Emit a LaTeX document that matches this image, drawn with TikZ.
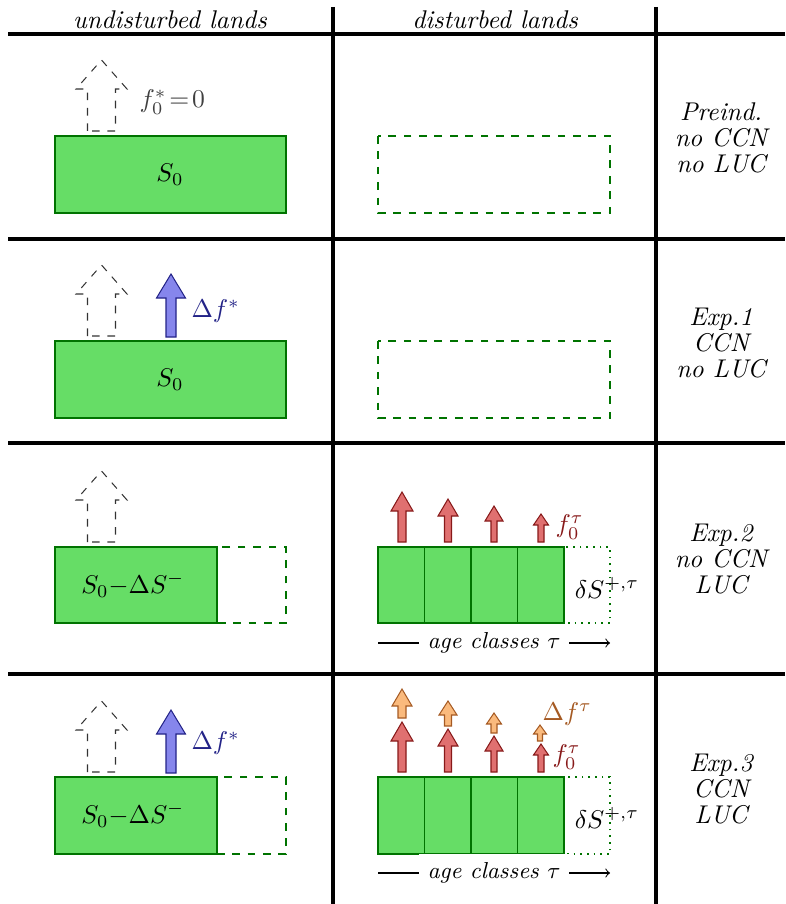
\documentclass[tikz,border=0pt]{standalone}
\usepackage{tikz}
\usetikzlibrary{calc}
\definecolor{landfill}{RGB}{102,221,102}
\definecolor{landdraw}{RGB}{0,115,0}
\definecolor{ccnfill}{RGB}{134,134,236}
\definecolor{ccndraw}{RGB}{35,35,135}
\definecolor{agefill}{RGB}{224,112,112}
\definecolor{agedraw}{RGB}{135,25,25}
\definecolor{dagefill}{RGB}{250,186,125}
\definecolor{dagedraw}{RGB}{165,90,35}
% upward flux arrow: [style](x,ybottom)(length:shaft:head:headlength)
\def\fluxarrow[#1](#2,#3)(#4:#5:#6:#7){\draw[#1] ({#2-#5/2},#3) -- ({#2-#5/2},{#3-#4+#7}) -- ({#2-#6/2},{#3-#4+#7}) -- (#2,{#3-#4}) -- ({#2+#6/2},{#3-#4+#7}) -- ({#2+#5/2},{#3-#4+#7}) -- ({#2+#5/2},#3) -- cycle;}

\begin{document}
\begin{tikzpicture}[x=0.39pt, y=-0.39pt,
	frame/.style={line width=1.3pt},
	landbox/.style={draw=landdraw, fill=landfill, semithick},
	emptybox/.style={draw=landdraw, dashed},
	newbox/.style={draw=landdraw, dotted, semithick},
	oldflux/.style={dashed, black!80},
	ccnflux/.style={draw=ccndraw, fill=ccnfill},
	ageflux/.style={draw=agedraw, fill=agefill},
	dageflux/.style={draw=dagedraw, fill=dagefill},
	fluxlabel/.style={anchor=west, inner sep=0pt},
	caseinfo/.style={align=center, font=\itshape},
	ageaxis/.style={fill=white, font=\small\itshape}]
			%%%%% START %%%%%
			\useasboundingbox (0,0) rectangle (785,904);
			
			% table
			\draw[frame] (333,7) -- (333,904);
			\draw[frame] (656,7) -- (656,904);
			\draw[frame] (8,34) -- (785,34);
			\draw[frame] (8,239) -- (785,239);
			\draw[frame] (8,443) -- (785,443);
			\draw[frame] (8,674) -- (785,674);
			\node[font=\itshape] (hundist) at (170,20) {undisturbed lands};
			\node[font=\itshape] (hdist) at (495,20) {disturbed lands};
			
			% preindustrial
			\draw[landbox] (55,136) rectangle (286,213);
			\node (sone) at (170,175) {$S_0$};
			\fluxarrow[oldflux](101.5,131)(71:28:51:29);
			\node[fluxlabel, black!75] (fone) at (139,102) {$f_0^*\!=\!0$};
			\draw[emptybox] (378,136) rectangle (610,213);
			\node[caseinfo] (caseone) at (721,138) {Preind.\\[-1.8pt]no CCN\\[-1.8pt]no LUC};
			
			% experiment 1
			\draw[landbox] (55,341) rectangle (286,418);
			\node (stwo) at (170,380) {$S_0$};
			\fluxarrow[oldflux](101.5,336)(71:28:51:29);
			\fluxarrow[ccnflux](171,337)(63:10:29:24);
			\node[fluxlabel, ccndraw] (dftwo) at (191,311) {$\Delta f^*$};
			\draw[emptybox] (378,341) rectangle (610,418);
			\node[caseinfo] (casetwo) at (721,343) {Exp.1\\[-1.8pt]CCN\\[-1.8pt]no LUC};
			
			% experiment 2
			\draw[emptybox] (217,547) rectangle (286,623);
			\draw[landbox] (55,547) rectangle (217,623);
			\node (sthree) at (133,585) {$S_0{-}\Delta S^-$};
			\fluxarrow[oldflux](101.5,542)(71:28:51:29);
			\draw[newbox] (564,547) rectangle (610,623);
			\foreach \i in {0,1,2,3}
				\draw[landbox] ({378+46.5*\i},547) rectangle ({424.5+46.5*\i},623);
			\fluxarrow[ageflux](402,542)(50:8:22:19);
			\fluxarrow[ageflux](448,542)(43:7:20:17);
			\fluxarrow[ageflux](494,542)(36:6:18:15);
			\fluxarrow[ageflux](541,542)(28:6:15:11);
			\node[fluxlabel, agedraw] (fthree) at (555,527) {$f_0^\tau$};
			\node[inner sep=0pt] (dsthree) at (607,588) {$\delta S^{+,\tau}$};
			\draw[->] (378,643) -- node[ageaxis] (agethree) {age classes $\tau$} (610,643);
			\node[caseinfo] (casethree) at (721,559) {Exp.2\\[-1.8pt]no CCN\\[-1.8pt]LUC};
			
			% experiment 3
			\draw[emptybox] (217,777) rectangle (286,854);
			\draw[landbox] (55,777) rectangle (217,854);
			\node (sfour) at (133,815) {$S_0{-}\Delta S^-$};
			\fluxarrow[oldflux](101.5,772)(71:28:51:29);
			\fluxarrow[ccnflux](171,773)(63:10:29:24);
			\node[fluxlabel, ccndraw] (dffour) at (191,743) {$\Delta f^*$};
			\draw[newbox] (564,777) rectangle (610,854);
			\foreach \i in {0,1,2,3}
				\draw[landbox] ({378+46.5*\i},777) rectangle ({424.5+46.5*\i},854);
			\fluxarrow[ageflux](402,772)(50:8:22:19);
			\fluxarrow[ageflux](448,772)(43:7:20:17);
			\fluxarrow[ageflux](494,772)(36:6:18:15);
			\fluxarrow[ageflux](541,772)(28:6:15:11);
			\fluxarrow[dageflux](402,718)(29:8:20:17);
			\fluxarrow[dageflux](448,726)(25:7:18:14);
			\fluxarrow[dageflux](494,733)(20:6:15:11);
			\fluxarrow[dageflux](540,741)(16:5:13:9);
			\node[fluxlabel, agedraw] (ffour) at (552,757) {$f_0^\tau$};
			\node[fluxlabel, dagedraw] (dffourt) at (542,714) {$\Delta f^\tau$};
			\node[inner sep=0pt] (dsfour) at (607,818) {$\delta S^{+,\tau}$};
			\draw[->] (378,873) -- node[ageaxis] (agefour) {age classes $\tau$} (610,873);
			\node[caseinfo] (casefour) at (721,789) {Exp.3\\[-1.8pt]CCN\\[-1.8pt]LUC};
			
			%%%%% END %%%%%
\end{tikzpicture}
\end{document}
